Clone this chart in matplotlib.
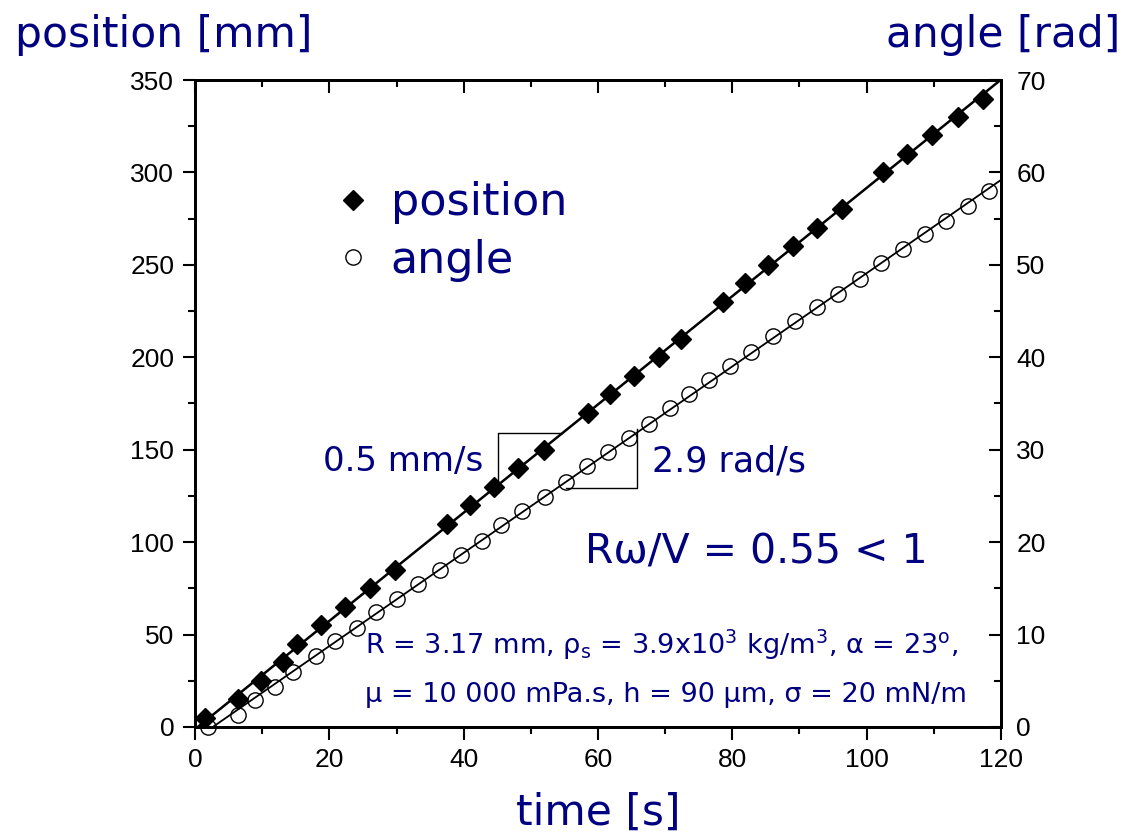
import numpy as np
import matplotlib.pyplot as plt

# data
time_pos = [1.5, 6.4, 9.8, 13.1, 15.2, 18.8, 22.3, 26.1, 29.8, 37.5, 40.9, 44.5, 48.1, 51.9, 58.5,
            61.8, 65.4, 69.1, 72.3, 78.6, 81.9, 85.3, 89.1, 92.6, 96.3, 102.4, 106.0, 109.7, 113.6, 117.3]
position = [5, 15, 25, 35, 45, 55, 65, 75, 85, 110, 120, 130, 140, 150, 170,
            180, 190, 200, 210, 230, 240, 250, 260, 270, 280, 300, 310, 320, 330, 340]

time_ang = [1.9, 6.4, 8.9, 11.9, 14.6, 18.0, 20.8, 24.1, 26.9, 30.1, 33.2, 36.5, 39.6, 42.7, 45.6,
            48.7, 52.1, 55.2, 58.4, 61.5, 64.6, 67.6, 70.7, 73.5, 76.5, 79.6, 82.8, 86.1, 89.3,
            92.6, 95.7, 99.0, 102.1, 105.4, 108.7, 111.8, 115.1, 118.2]
angle = [0.0, 1.3, 2.9, 4.3, 6.0, 7.7, 9.3, 10.7, 12.4, 13.9, 15.5, 17.0, 18.6, 20.1, 21.8,
         23.4, 24.9, 26.5, 28.2, 29.7, 31.3, 32.8, 34.5, 36.0, 37.5, 39.1, 40.6, 42.3, 43.9,
         45.4, 46.9, 48.5, 50.2, 51.7, 53.3, 54.8, 56.4, 58.0]

navy = '#000080'
plt.rcParams['mathtext.fontset'] = 'dejavusans'

fig = plt.figure(figsize=(11.28, 8.38), dpi=100)
ax = fig.add_axes([0.1729, 0.1325, 0.7145, 0.772])
ax2 = ax.twinx()

# straight line fits
p_pos = np.polyfit(time_pos, position, 1)
p_ang = np.polyfit(time_ang, angle, 1)
t_line = np.array([0, 120])
ax.plot(t_line, np.polyval(p_pos, t_line), color='black', lw=1.8, zorder=2)
t_line2 = np.array([1.5, 120])
ax2.plot(t_line2, np.polyval(p_ang, t_line2), color='black', lw=1.3, zorder=2)

pos_pts, = ax.plot(time_pos, position, 'D', color='black', ms=10, zorder=3, clip_on=False)
ang_pts, = ax2.plot(time_ang, angle, 'o', mfc='none', mec='black', mew=1.0, ms=11, zorder=3, clip_on=False)

# slope triangles
tp = [45.1, 54.7]
ax.plot([tp[0], tp[0], tp[1]], [np.polyval(p_pos, tp[0]) - 4, np.polyval(p_pos, tp[1]), np.polyval(p_pos, tp[1])],
        color='black', lw=1.0)
ta = [55.2, 65.8]
ax2.plot([ta[0], ta[1], ta[1]], [np.polyval(p_ang, ta[0]) - 0.6, np.polyval(p_ang, ta[0]) - 0.6, np.polyval(p_ang, ta[1]) + 0.4],
         color='black', lw=1.0)

ax.set_xlim(0, 120)
ax.set_ylim(0, 350)
ax2.set_ylim(0, 70)
ax.set_xticks(range(0, 121, 20))
ax.set_xticks(range(10, 120, 20), minor=True)
ax.set_yticks(range(0, 351, 50))
ax.set_yticks(range(25, 350, 50), minor=True)
ax2.set_yticks(range(0, 71, 10))
ax2.set_yticks(range(5, 70, 10), minor=True)

ax.tick_params(which='major', direction='out', length=9, width=1.5, labelsize=19, pad=6)
ax.tick_params(which='minor', direction='out', length=5, width=1.5)
ax2.tick_params(which='major', direction='in', length=9, width=1.5, labelsize=19, pad=11)
ax2.tick_params(which='minor', direction='in', length=5, width=1.5)

top = ax.secondary_xaxis('top')
top.set_xticks(range(0, 121, 20))
top.set_xticks(range(10, 120, 20), minor=True)
top.tick_params(which='major', direction='in', length=9, width=1.5, labeltop=False)
top.tick_params(which='minor', direction='in', length=5, width=1.5)

for a in (ax, ax2):
    for s in a.spines.values():
        s.set_linewidth(2)
top.spines['top'].set_linewidth(2)

for lab in ax.get_xticklabels() + ax.get_yticklabels() + ax2.get_yticklabels():
    lab.set_family('Liberation Sans')

fig.text(0.013, 0.944, 'position [mm]', fontsize=30.5, color=navy, va='baseline', ha='left')
fig.text(0.993, 0.944, 'angle [rad]', fontsize=30.5, color=navy, va='baseline', ha='right')
fig.text(0.530, 0.030, 'time [s]', fontsize=30.5, color=navy, va='center', ha='center')

ax.legend([pos_pts, ang_pts], ['position', 'angle'], loc='upper left', bbox_to_anchor=(0.113, 0.905),
          frameon=False, fontsize=32, labelcolor=navy, handletextpad=0.25, labelspacing=0.32,
          numpoints=1, handlelength=1.2)

ax.text(0.357, 0.411, '0.5 mm/s', transform=ax.transAxes, fontsize=24.5, color=navy, ha='right', va='center')
ax.text(0.567, 0.411, '2.9 rad/s', transform=ax.transAxes, fontsize=25, color=navy, ha='left', va='center')
ax.text(0.484, 0.270, 'Rω/V = 0.55 < 1', transform=ax.transAxes, fontsize=29.5, color=navy,
        ha='left', va='center')
ax.text(0.211, 0.127, r'R = 3.17 mm, ρ$_\mathrm{s}$ = 3.9x10$^3$ kg/m$^3$, α = 23$^\mathrm{o}$,',
        transform=ax.transAxes, fontsize=19.5, color=navy, ha='left', va='center')
ax.text(0.211, 0.049, 'μ = 10 000 mPa.s, h = 90 μm, σ = 20 mN/m',
        transform=ax.transAxes, fontsize=19.5, color=navy, ha='left', va='center')

fig.savefig('out.png', dpi=100)
